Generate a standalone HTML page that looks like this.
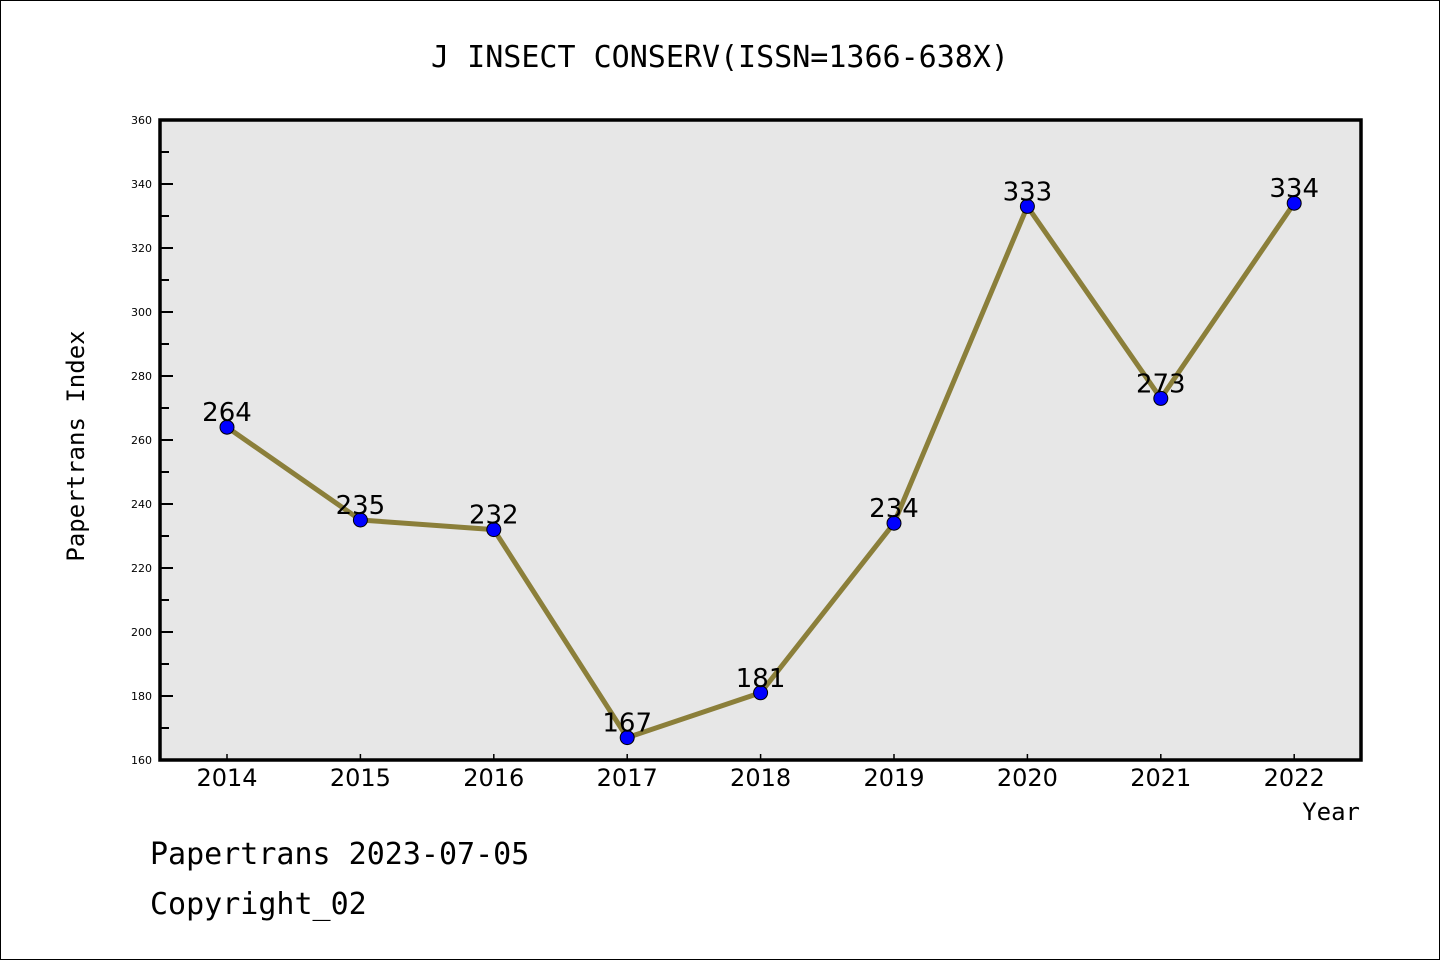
<!DOCTYPE html>
<html><head><meta charset="utf-8"><style>
html,body{margin:0;padding:0;background:#fff}
svg{display:block}
</style></head><body>
<svg id="c" width="1440" height="960" xmlns="http://www.w3.org/2000/svg">
<rect x="0.5" y="0.5" width="1439" height="959" fill="#fff" stroke="#000"/>
<text x="720" y="67" text-anchor="middle" font-family="'WenQuanYi Zen Hei','DejaVu Sans Mono',monospace" font-size="30">J INSECT CONSERV(ISSN=1366-638X)</text>
<rect x="160" y="120" width="1201" height="640" fill="#e7e7e7"/>
<g id="ticks"></g>
<g id="series"></g>
<rect x="160" y="120" width="1201" height="640" fill="none" stroke="#000" stroke-width="3.5"/>
<text transform="translate(84,446) rotate(-90)" text-anchor="middle" font-family="'WenQuanYi Zen Hei','DejaVu Sans Mono',monospace" font-size="24">Papertrans Index</text>
<text x="1360" y="820" text-anchor="end" font-family="'WenQuanYi Zen Hei','DejaVu Sans Mono',monospace" font-size="24">Year</text>
<text x="150" y="864" font-family="'WenQuanYi Zen Hei','DejaVu Sans Mono',monospace" font-size="30">Papertrans 2023-07-05</text>
<text x="150" y="914" font-family="'WenQuanYi Zen Hei','DejaVu Sans Mono',monospace" font-size="30">Copyright_02</text>
</svg>
<script>
const years = ['2014','2015','2016','2017','2018','2019','2020','2021','2022'];
const values = [264,235,232,167,181,234,333,273,334];
const yTicks = [160,180,200,220,240,260,280,300,320,340,360];
const yMin=160,yMax=360,px0=160,px1=1361,py0=760,py1=120;
const xStart=227,xStep=133.4;
const NS='http://www.w3.org/2000/svg';
function X(i){return xStart+i*xStep;}
function Y(v){return py0-(v-yMin)/(yMax-yMin)*(py0-py1);}
function mk(tag,attrs,parent){const e=document.createElementNS(NS,tag);for(const k in attrs)e.setAttribute(k,attrs[k]);parent.appendChild(e);return e;}
const tg=document.getElementById('ticks'),sg=document.getElementById('series');
yTicks.forEach((t,i)=>{
  const y=Y(t);
  const l=mk('line',{x1:160,x2:173,y1:y,y2:y,stroke:'#000','stroke-width':2},tg);
  
  
  const tx=mk('text',{x:152,y:y+4,'text-anchor':'end','font-family':'DejaVu Sans, sans-serif','font-size':11},tg);
  tx.textContent=t;
  
  
  if(i<yTicks.length-1){
    const ym=Y(t+(yTicks[1]-yTicks[0])/2);
    const m=mk('line',{x1:160,x2:169,y1:ym,y2:ym,stroke:'#000','stroke-width':2},tg);
    
    
  }
});
years.forEach((yr,i)=>{
  const x=X(i);
  const l=mk('line',{x1:x,x2:x,y1:760,y2:754,stroke:'#000','stroke-width':1.5},tg);
  
  
  const tx=mk('text',{x:x,y:786,'text-anchor':'middle','font-family':"'WenQuanYi Zen Hei','DejaVu Sans',sans-serif",'font-size':24},tg);
  tx.textContent=yr;
  
  
});
const pts=values.map((v,i)=>X(i)+','+Y(v)).join(' ');
const pl=mk('polyline',{points:pts,fill:'none',stroke:'#8b7f3a','stroke-width':5,'stroke-linejoin':'round'},sg);


values.forEach((v,i)=>{
  const c=mk('circle',{cx:X(i),cy:Y(v),r:7,fill:'#0000ff',stroke:'#000','stroke-width':1},sg);
  
  
  const t=mk('text',{x:X(i),y:Y(v)-6,'text-anchor':'middle','font-family':"'WenQuanYi Zen Hei','DejaVu Sans',sans-serif",'font-size':26},sg);
  t.textContent=v;
  
  
});
</script>
</body></html>
